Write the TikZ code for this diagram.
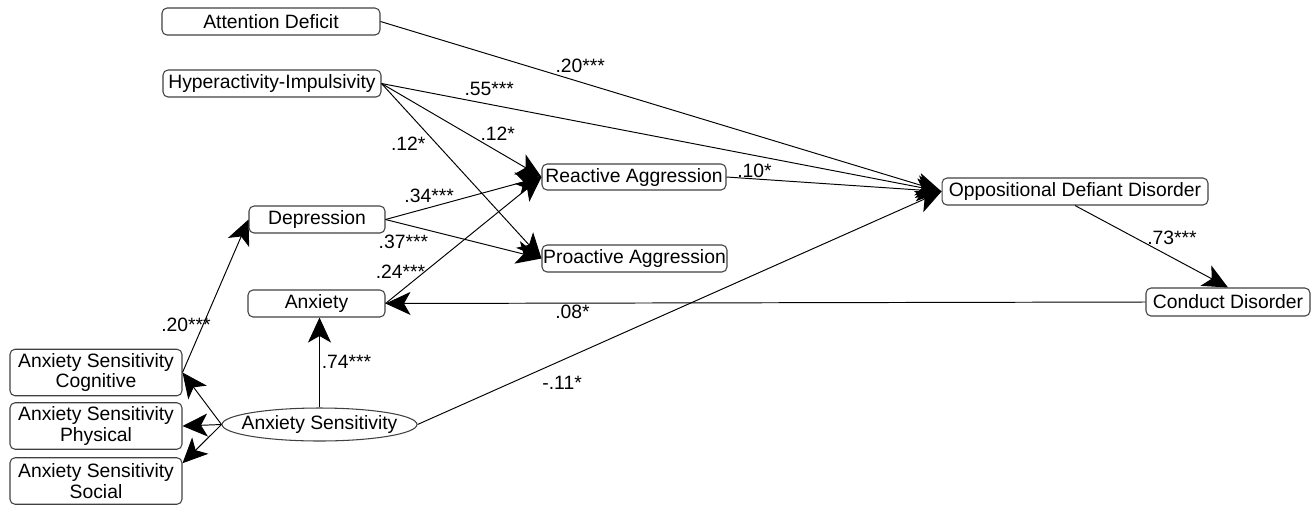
\documentclass[tikz,border=0pt]{standalone}
\usepackage{fontspec}
\setmainfont{Liberation Sans}
\usetikzlibrary{arrows.meta,shapes.geometric,calc}
\begin{document}
\begin{tikzpicture}[x=0.02cm,y=-0.02cm,
  every node/.style={font=\fontsize{11}{11.5}\selectfont},
  box/.style={draw=black!75, line width=0.6pt, rounded corners=0.1cm, inner sep=0, align=center, minimum height=0.54cm},
  twobox/.style={box, minimum width=3.44cm, minimum height=0.93cm},
  lat/.style={draw=black!75, line width=0.6pt, ellipse, inner xsep=-0.2cm, inner ysep=0, minimum width=3.9cm, minimum height=0.66cm},
  arr/.style={draw, line width=0.55pt, -{Stealth[length=0.5cm,width=0.46cm,inset=0.13cm]}},
  lbl/.style={inner sep=0}
]
\useasboundingbox (0,0) rectangle (1316,505);

\node[box, minimum width=4.36cm] (ad) at (271,21.5) {Attention Deficit};
\node[box, minimum width=4.36cm] (hi) at (272,83.5) {Hyperactivity-Impulsivity};
\node[box, minimum width=3.68cm, minimum height=0.52cm] (ra) at (634,177) {Reactive Aggression};
\node[box, minimum width=3.7cm] (pa) at (634.5,258.5) {Proactive Aggression};
\node[box, minimum width=2.72cm] (dep) at (317,219.5) {Depression};
\node[box, minimum width=2.74cm] (anx) at (316.5,303.5) {Anxiety};
\node[box, minimum width=5.32cm] (odd) at (1075,191.5) {Oppositional Defiant Disorder};
\node[box, minimum width=3.28cm, minimum height=0.56cm] (cd) at (1228,302) {Conduct Disorder};
\node[twobox] (cog) at (96,372.5) {Anxiety Sensitivity\\Cognitive};
\node[twobox] (phy) at (96,426) {Anxiety Sensitivity\\Physical};
\node[twobox] (soc) at (96,481) {Anxiety Sensitivity\\Social};
\node[lat] (as) at (319.5,424.5) {Anxiety Sensitivity};

\draw[arr] (ad.east) -- node[lbl,pos=.356,yshift=0.32cm]{.20***} (odd.west);
\draw[arr] (hi.east) -- node[lbl,pos=.1925,yshift=0.31cm]{.55***} (odd.west);
\draw[arr] (hi.east) -- node[lbl,pos=.727,yshift=0.35cm]{.12*} (ra.west);
\draw[arr] (hi.east) -- node[lbl,pos=.345,xshift=-0.57cm]{.12*} (pa.west);
\draw[arr] (dep.east) -- node[lbl,pos=.28,yshift=0.24cm]{.34***} (ra.west);
\draw[arr] (dep.east) -- node[lbl,pos=.115,yshift=-0.35cm]{.37***} (pa.west);
\draw[arr] (anx.east) -- node[lbl,pos=.096,yshift=0.4cm]{.24***} (ra.west);
\draw[arr] (ra.east) -- node[lbl,pos=.13,yshift=0.16cm]{.10*} (odd.west);
\draw[arr] (odd.south) -- node[lbl,pos=.634,yshift=0.39cm]{.73***} (cd.north);
\draw[arr] (cd.west) -- node[lbl,pos=.754,yshift=-0.18cm]{.08*} (anx.east);
\draw[arr] (as.north) -- node[lbl,pos=.505,xshift=0.54cm]{.74***} (as.north |- anx.south);
\draw[arr] (as.east) -- node[lbl,pos=.276,yshift=-0.46cm]{-.11*} (odd.west);
\draw[arr] (cog.east) -- node[lbl,pos=.31,xshift=-0.34cm]{.20***} (dep.west);
\draw[arr] (as.west) -- (cog.east);
\draw[arr] (as.west) -- (phy.east);
\coordinate (socin) at ($(soc.north east)+(0,6)$);
\draw[arr] (as.west) -- (socin);
\end{tikzpicture}
\end{document}
